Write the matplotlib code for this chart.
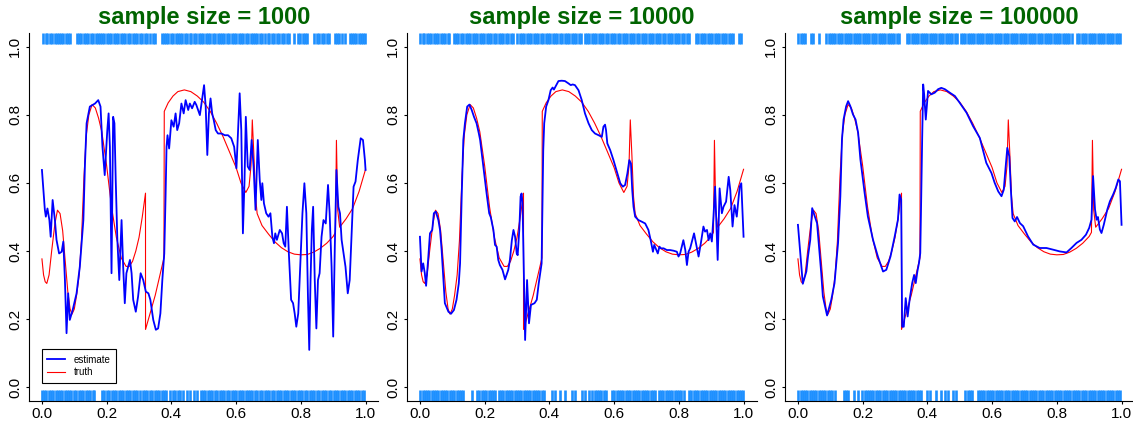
import numpy as np
import matplotlib
matplotlib.use("Agg")
import matplotlib.pyplot as plt
from matplotlib.ticker import FormatStrFormatter
from matplotlib.lines import Line2D

plt.rcParams['font.family'] = ['Liberation Sans', 'DejaVu Sans']

sizes = [1000, 10000, 100000]

# true probability curve (same in every panel)
truth_x = [0.0, 0.005, 0.01, 0.015, 0.022, 0.03, 0.04, 0.048, 0.056, 0.064, 0.072, 0.08,
           0.087, 0.093, 0.1, 0.107, 0.115, 0.122, 0.13, 0.137, 0.145, 0.155, 0.165, 0.175,
           0.185, 0.2, 0.215, 0.23, 0.245, 0.26, 0.27, 0.28, 0.29, 0.3, 0.31, 0.32, 0.3201,
           0.35, 0.377, 0.378, 0.39, 0.405, 0.42, 0.44, 0.46, 0.48, 0.5, 0.52, 0.54, 0.56,
           0.58, 0.6, 0.615, 0.63, 0.64, 0.646, 0.65, 0.655, 0.66, 0.665, 0.68, 0.7, 0.72,
           0.74, 0.76, 0.78, 0.8, 0.82, 0.84, 0.86, 0.88, 0.9, 0.907, 0.91, 0.914, 0.92,
           0.94, 0.96, 0.98, 1.0]
truth_y = [0.377, 0.33, 0.31, 0.305, 0.33, 0.4, 0.48, 0.52, 0.51, 0.46, 0.37, 0.28,
           0.23, 0.215, 0.23, 0.27, 0.33, 0.43, 0.62, 0.74, 0.8, 0.83, 0.82, 0.79,
           0.75, 0.65, 0.53, 0.44, 0.38, 0.355, 0.355, 0.37, 0.40, 0.44, 0.5, 0.57, 0.17,
           0.27, 0.38, 0.81, 0.835, 0.855, 0.868, 0.873, 0.868, 0.855, 0.837, 0.81, 0.775, 0.735,
           0.69, 0.645, 0.6, 0.572, 0.59, 0.65, 0.785, 0.68, 0.56, 0.51, 0.475, 0.45, 0.427,
           0.41, 0.398, 0.391, 0.389, 0.39, 0.397, 0.408, 0.423, 0.443, 0.455, 0.725, 0.52, 0.47,
           0.495, 0.525, 0.575, 0.64]

# estimate, n = 1000
est1_x = [0.0, 0.009, 0.012, 0.017, 0.023, 0.027, 0.033, 0.040, 0.045, 0.053, 0.061, 0.066,
          0.071, 0.076, 0.081, 0.086, 0.095, 0.107, 0.117, 0.128, 0.133, 0.138, 0.148, 0.164,
          0.174, 0.181, 0.187, 0.194, 0.202, 0.206, 0.210, 0.215, 0.220, 0.224, 0.228, 0.233,
          0.239, 0.246, 0.251, 0.256, 0.261, 0.272, 0.277, 0.282, 0.290, 0.297, 0.305, 0.313,
          0.321, 0.329, 0.335, 0.344, 0.352, 0.359, 0.366, 0.372, 0.378, 0.382, 0.385, 0.388,
          0.393, 0.400, 0.407, 0.413, 0.418, 0.424, 0.431, 0.438, 0.444, 0.452, 0.457, 0.464,
          0.472, 0.477, 0.488, 0.496, 0.501, 0.506, 0.511, 0.516, 0.521, 0.526, 0.531, 0.537,
          0.544, 0.555, 0.565, 0.575, 0.585, 0.594, 0.601, 0.606, 0.611, 0.616, 0.621, 0.626,
          0.630, 0.636, 0.642, 0.648, 0.654, 0.660, 0.667, 0.673, 0.678, 0.681, 0.686, 0.693,
          0.700, 0.706, 0.712, 0.717, 0.721, 0.726, 0.735, 0.742, 0.747, 0.752, 0.757, 0.763,
          0.770, 0.776, 0.781, 0.786, 0.792, 0.798, 0.805, 0.811, 0.817, 0.822, 0.826, 0.830,
          0.834, 0.838, 0.843, 0.848, 0.853, 0.858, 0.864, 0.870, 0.877, 0.884, 0.889, 0.895,
          0.900, 0.905, 0.910, 0.916, 0.921, 0.926, 0.932, 0.938, 0.945, 0.951, 0.957, 0.963,
          0.969, 0.976, 0.985, 0.992, 0.998, 1.0]
est1_y = [0.638, 0.521, 0.501, 0.525, 0.491, 0.442, 0.550, 0.491, 0.433, 0.393, 0.398, 0.428,
          0.315, 0.159, 0.276, 0.198, 0.227, 0.276, 0.354, 0.491, 0.657, 0.775, 0.824, 0.833,
          0.843, 0.824, 0.706, 0.623, 0.755, 0.804, 0.706, 0.335, 0.794, 0.775, 0.608, 0.433,
          0.315, 0.491, 0.354, 0.247, 0.335, 0.374, 0.335, 0.257, 0.222, 0.266, 0.335, 0.315,
          0.281, 0.276, 0.257, 0.198, 0.169, 0.173, 0.217, 0.315, 0.393, 0.560, 0.706, 0.740,
          0.701, 0.784, 0.765, 0.804, 0.755, 0.775, 0.833, 0.804, 0.843, 0.814, 0.833, 0.819,
          0.838, 0.829, 0.799, 0.853, 0.887, 0.824, 0.682, 0.804, 0.848, 0.804, 0.784, 0.755,
          0.745, 0.745, 0.740, 0.740, 0.731, 0.706, 0.643, 0.755, 0.863, 0.755, 0.452, 0.608,
          0.794, 0.648, 0.638, 0.726, 0.648, 0.521, 0.726, 0.608, 0.550, 0.599, 0.540, 0.511,
          0.501, 0.511, 0.442, 0.423, 0.452, 0.433, 0.462, 0.452, 0.423, 0.413, 0.530, 0.393,
          0.257, 0.247, 0.217, 0.178, 0.217, 0.354, 0.511, 0.599, 0.511, 0.266, 0.110, 0.315,
          0.462, 0.530, 0.315, 0.173, 0.315, 0.335, 0.442, 0.491, 0.481, 0.594, 0.511, 0.354,
          0.149, 0.413, 0.638, 0.530, 0.511, 0.433, 0.393, 0.354, 0.276, 0.315, 0.452, 0.589,
          0.604, 0.667, 0.731, 0.726, 0.667, 0.638]

# estimate, n = 10000
est2_x = [0.0, 0.005, 0.010, 0.015, 0.019, 0.026, 0.031, 0.038, 0.043, 0.049, 0.057, 0.062,
          0.067, 0.077, 0.088, 0.096, 0.105, 0.113, 0.120, 0.124, 0.129, 0.134, 0.139, 0.146,
          0.153, 0.160, 0.167, 0.175, 0.182, 0.186, 0.196, 0.206, 0.214, 0.219, 0.227, 0.232,
          0.237, 0.242, 0.247, 0.255, 0.263, 0.273, 0.278, 0.284, 0.289, 0.294, 0.299, 0.302,
          0.307, 0.311, 0.314, 0.317, 0.325, 0.331, 0.337, 0.343, 0.354, 0.361, 0.367, 0.373,
          0.376, 0.379, 0.381, 0.384, 0.390, 0.397, 0.404, 0.410, 0.414, 0.420, 0.428, 0.438,
          0.448, 0.459, 0.466, 0.472, 0.479, 0.490, 0.500, 0.510, 0.521, 0.531, 0.541, 0.552,
          0.562, 0.567, 0.572, 0.575, 0.579, 0.588, 0.598, 0.610, 0.619, 0.627, 0.634, 0.641,
          0.647, 0.652, 0.656, 0.660, 0.665, 0.675, 0.686, 0.696, 0.706, 0.713, 0.720, 0.724,
          0.735, 0.740, 0.745, 0.753, 0.763, 0.773, 0.784, 0.794, 0.799, 0.804, 0.814, 0.820,
          0.825, 0.830, 0.835, 0.847, 0.854, 0.861, 0.868, 0.876, 0.881, 0.887, 0.892, 0.897,
          0.902, 0.907, 0.912, 0.920, 0.926, 0.933, 0.938, 0.946, 0.954, 0.959, 0.966, 0.972,
          0.979, 0.988, 0.993, 1.0]
est2_y = [0.442, 0.340, 0.364, 0.335, 0.298, 0.384, 0.452, 0.462, 0.511, 0.516, 0.491, 0.462,
          0.403, 0.247, 0.222, 0.216, 0.227, 0.257, 0.305, 0.364, 0.560, 0.726, 0.775, 0.824,
          0.830, 0.814, 0.794, 0.775, 0.745, 0.726, 0.648, 0.569, 0.511, 0.499, 0.462, 0.418,
          0.413, 0.374, 0.359, 0.345, 0.317, 0.345, 0.374, 0.432, 0.462, 0.442, 0.393, 0.388,
          0.462, 0.560, 0.569, 0.540, 0.139, 0.315, 0.188, 0.242, 0.247, 0.257, 0.305, 0.344,
          0.364, 0.560, 0.696, 0.775, 0.824, 0.843, 0.872, 0.880, 0.874, 0.885, 0.899, 0.900,
          0.899, 0.892, 0.887, 0.889, 0.887, 0.872, 0.843, 0.804, 0.775, 0.755, 0.745, 0.740,
          0.735, 0.765, 0.771, 0.755, 0.716, 0.696, 0.667, 0.628, 0.599, 0.589, 0.594, 0.628,
          0.667, 0.657, 0.579, 0.530, 0.501, 0.491, 0.486, 0.481, 0.462, 0.432, 0.398, 0.418,
          0.393, 0.413, 0.408, 0.408, 0.403, 0.403, 0.401, 0.398, 0.384, 0.393, 0.432, 0.403,
          0.359, 0.398, 0.408, 0.452, 0.418, 0.384, 0.423, 0.472, 0.457, 0.462, 0.432, 0.452,
          0.428, 0.501, 0.589, 0.374, 0.584, 0.511, 0.530, 0.545, 0.618, 0.579, 0.472, 0.535,
          0.501, 0.589, 0.599, 0.442]

# estimate, n = 100000
est3_x = [0.0, 0.015, 0.026, 0.031, 0.038, 0.044, 0.052, 0.059, 0.072, 0.077, 0.090, 0.103,
          0.113, 0.124, 0.131, 0.136, 0.141, 0.149, 0.155, 0.162, 0.170, 0.178, 0.186, 0.193,
          0.206, 0.216, 0.232, 0.247, 0.263, 0.273, 0.286, 0.299, 0.309, 0.314, 0.319, 0.322,
          0.327, 0.333, 0.339, 0.345, 0.353, 0.359, 0.364, 0.369, 0.374, 0.378, 0.381, 0.384,
          0.387, 0.390, 0.395, 0.402, 0.412, 0.423, 0.433, 0.443, 0.454, 0.469, 0.485, 0.500,
          0.521, 0.541, 0.562, 0.582, 0.598, 0.608, 0.619, 0.629, 0.636, 0.642, 0.647, 0.653,
          0.658, 0.663, 0.670, 0.677, 0.686, 0.696, 0.711, 0.727, 0.747, 0.768, 0.789, 0.809,
          0.830, 0.845, 0.861, 0.876, 0.890, 0.900, 0.907, 0.912, 0.918, 0.923, 0.927, 0.933,
          0.938, 0.945, 0.956, 0.964, 0.974, 0.982, 0.990, 0.995, 1.0]
est3_y = [0.477, 0.304, 0.340, 0.384, 0.433, 0.526, 0.502, 0.482, 0.335, 0.267, 0.211, 0.257,
          0.306, 0.424, 0.561, 0.727, 0.786, 0.825, 0.840, 0.825, 0.801, 0.786, 0.747, 0.669,
          0.571, 0.502, 0.433, 0.384, 0.340, 0.345, 0.384, 0.443, 0.492, 0.566, 0.551, 0.178,
          0.178, 0.262, 0.208, 0.257, 0.306, 0.330, 0.306, 0.340, 0.365, 0.394, 0.561, 0.737,
          0.889, 0.860, 0.786, 0.870, 0.860, 0.865, 0.875, 0.879, 0.875, 0.865, 0.855, 0.835,
          0.806, 0.767, 0.732, 0.659, 0.629, 0.600, 0.575, 0.561, 0.580, 0.649, 0.703, 0.678,
          0.580, 0.497, 0.487, 0.500, 0.482, 0.473, 0.443, 0.419, 0.409, 0.409, 0.404, 0.399,
          0.396, 0.409, 0.424, 0.433, 0.448, 0.468, 0.492, 0.620, 0.522, 0.492, 0.500, 0.463,
          0.453, 0.477, 0.522, 0.546, 0.566, 0.585, 0.610, 0.605, 0.477]

# observation positions (x 1000) with response 1 (top) and 0 (bottom)
rug1_hi = [4, 11, 17, 26, 31, 39, 46, 52, 60, 66, 75, 81, 88,
           108, 115, 121, 130, 136, 143, 151, 157, 166, 172, 179, 187, 193, 201, 208, 214,
           222, 229, 236, 244, 251, 258, 265, 272, 281, 287, 295, 302, 309, 318, 326, 333,
           343, 350, 370, 377, 383, 391, 398, 405, 413, 419, 427, 434, 441, 448, 456, 462,
           470, 477, 484, 492, 499, 506, 514, 520, 528, 535, 543, 549, 557, 564, 571, 579,
           586, 594, 601, 608, 616, 622, 630, 637, 645, 651, 659, 666, 674, 681, 688, 697,
           703, 711, 718, 727, 733, 741, 748, 756, 763, 780, 791, 798, 806, 813, 820, 842,
           849, 857, 866, 872, 880, 887, 905, 912, 919, 928, 936, 951, 958, 965, 972, 979,
           986, 993, 999]
rug1_lo = [0, 7, 13, 21, 28, 34, 42, 49, 56, 63, 70, 78, 85, 91, 99, 106, 113, 121, 127,
           135, 142, 149, 157, 162, 186, 193, 200, 208, 215, 222, 229, 237, 244, 251, 259,
           266, 273, 281, 288, 295, 303, 311, 318, 326, 333, 340, 348, 355, 362, 370, 377,
           383, 397, 404, 412, 419, 426, 437, 447, 459, 470, 479, 490, 497, 505, 512, 520,
           527, 534, 542, 549, 556, 564, 571, 578, 586, 593, 600, 608, 615, 622, 630, 637,
           644, 650, 659, 666, 673, 681, 688, 695, 703, 710, 717, 725, 732, 739, 747, 754,
           761, 769, 776, 783, 791, 798, 805, 813, 820, 827, 835, 842, 849, 857, 864, 871,
           879, 886, 893, 901, 908, 915, 923, 930, 937, 945, 952, 959, 967, 974, 981, 989, 996]
rug2_hi = [1, 8, 14, 22, 29, 35, 43, 50, 57, 64, 71, 78, 86, 91, 105, 112, 119, 127, 134,
           141, 148, 156, 163, 170, 177, 185, 192, 199, 207, 214, 221, 228, 236, 243, 250,
           258, 265, 272, 280, 287, 301, 308, 315, 323, 330, 337, 343, 352, 359, 366, 374,
           381, 388, 396, 403, 410, 417, 425, 432, 439, 447, 454, 461, 469, 476, 483, 491,
           497, 509, 516, 523, 531, 538, 545, 553, 560, 567, 575, 582, 589, 597, 604, 611,
           619, 626, 633, 641, 648, 655, 663, 670, 677, 685, 692, 699, 707, 714, 721, 729,
           736, 743, 751, 758, 765, 773, 780, 787, 795, 802, 809, 817, 824, 831, 852, 859,
           867, 874, 881, 889, 896, 903, 911, 918, 925, 933, 940, 947, 955, 962, 967, 985, 993]
rug2_lo = [1, 8, 15, 22, 29, 36, 43, 50, 57, 64, 71, 78, 85, 92, 99, 106, 113, 120, 127,
           134, 160, 177, 184, 191, 198, 205, 212, 219, 226, 233, 244, 251, 258, 265, 272,
           279, 286, 293, 300, 306, 313, 320, 327, 334, 341, 348, 355, 362, 369, 376, 383,
           407, 418, 433, 448, 469, 479, 500, 510, 522, 531, 540, 547, 554, 561, 568, 574,
           594, 601, 608, 615, 622, 629, 636, 643, 650, 657, 664, 671, 678, 685, 692, 699,
           706, 713, 720, 727, 738, 745, 752, 759, 766, 773, 780, 787, 794, 801, 808, 815,
           832, 839, 846, 853, 860, 867, 874, 881, 888, 895, 902, 909, 916, 923, 930, 937,
           944, 951, 958, 965, 972, 979, 986, 993, 999]
rug3_hi = [1, 8, 15, 21, 40, 47, 64, 88, 95, 102, 109, 116, 123, 130, 137, 144, 151, 158,
           165, 172, 179, 186, 193, 200, 207, 214, 221, 228, 235, 242, 249, 256, 263, 270,
           277, 284, 291, 298, 305, 311, 337, 344, 351, 358, 365, 372, 379, 386, 393, 400,
           407, 414, 421, 428, 435, 442, 449, 456, 463, 470, 477, 484, 491, 503, 510, 517,
           524, 531, 538, 545, 552, 559, 566, 573, 580, 587, 594, 601, 608, 615, 622, 629,
           636, 643, 650, 657, 664, 671, 678, 685, 692, 699, 706, 713, 720, 727, 734, 741,
           748, 755, 762, 769, 776, 783, 790, 797, 804, 811, 818, 825, 832, 839, 846, 863,
           870, 877, 884, 891, 898, 905, 912, 919, 926, 933, 940, 947, 954, 961, 968, 975,
           982, 989, 996]
rug3_lo = [1, 8, 15, 22, 29, 36, 43, 50, 57, 64, 71, 78, 85, 92, 99, 106, 113, 142, 149,
           156, 172, 186, 199, 206, 213, 220, 227, 233, 241, 248, 255, 262, 269, 276, 283,
           290, 297, 304, 311, 318, 325, 332, 339, 346, 353, 360, 367, 374, 381, 398, 407,
           427, 443, 454, 464, 479, 489, 517, 524, 531, 538, 555, 562, 569, 576, 583, 590,
           597, 604, 611, 618, 625, 632, 639, 646, 653, 660, 667, 674, 681, 688, 695, 702,
           709, 716, 723, 730, 737, 744, 751, 758, 765, 772, 779, 786, 793, 800, 807, 814,
           821, 828, 835, 842, 849, 856, 863, 870, 877, 884, 891, 898, 905, 912, 919, 926,
           933, 940, 947, 954, 961, 968, 975, 982, 989, 996]

estimates = [(est1_x, est1_y), (est2_x, est2_y), (est3_x, est3_y)]
rugs = [(rug1_lo, rug1_hi), (rug2_lo, rug2_hi), (rug3_lo, rug3_hi)]

W, H = 1133, 424
fig = plt.figure(figsize=(W / 100, H / 100), dpi=100)
lefts = [29, 407, 785]
RUG = '#1E90FF'

for i, n in enumerate(sizes):
    ax = fig.add_axes([lefts[i] / W, 23 / H, 349.5 / W, 368 / H])
    ex, ey = estimates[i]
    lo, hi = rugs[i]
    tr = ax.get_xaxis_transform()
    ax.vlines(np.array(hi) / 1000, 0.97, 1.0, transform=tr, color=RUG, lw=1.9)
    ax.vlines(np.array(lo) / 1000, 0.0, 0.03, transform=tr, color=RUG, lw=1.9)
    ax.plot(truth_x, truth_y, color='red', lw=0.8)
    ax.plot(ex, ey, color='blue', lw=1.3)

    ax.set_xlim(-0.04, 1.04)
    ax.set_ylim(-0.04, 1.04)
    ax.set_xticks(np.arange(0, 1.01, 0.2))
    ax.set_yticks(np.arange(0, 1.01, 0.2))
    ax.xaxis.set_major_formatter(FormatStrFormatter('%.1f'))
    ax.yaxis.set_major_formatter(FormatStrFormatter('%.1f'))
    for s in ['top', 'right']:
        ax.spines[s].set_visible(False)
    for s in ['left', 'bottom']:
        ax.spines[s].set_linewidth(0.8)
    ax.tick_params(length=2.5, width=0.8, labelsize=11, pad=1.5)
    ax.tick_params(axis='y', pad=2.5)
    for lab in ax.get_yticklabels():
        lab.set_rotation(90)
        lab.set_va('center')

    ax.set_title(f'sample size = {n}', fontsize=17, fontweight='bold',
                 color='#006400', pad=6.5)

    if i == 0:
        handles = [Line2D([], [], color='blue', lw=1.3),
                   Line2D([], [], color='red', lw=0.8)]
        ax.legend(handles, ['estimate', 'truth'], loc='lower left',
                  bbox_to_anchor=(0.036, 0.049), borderaxespad=0, fontsize=7,
                  fancybox=False, framealpha=1, edgecolor='black',
                  handlelength=1.8, handletextpad=0.9, labelspacing=0.25,
                  borderpad=0.6)
        ax.get_legend().get_frame().set_linewidth(0.8)

fig.savefig('out.png', dpi=100)
